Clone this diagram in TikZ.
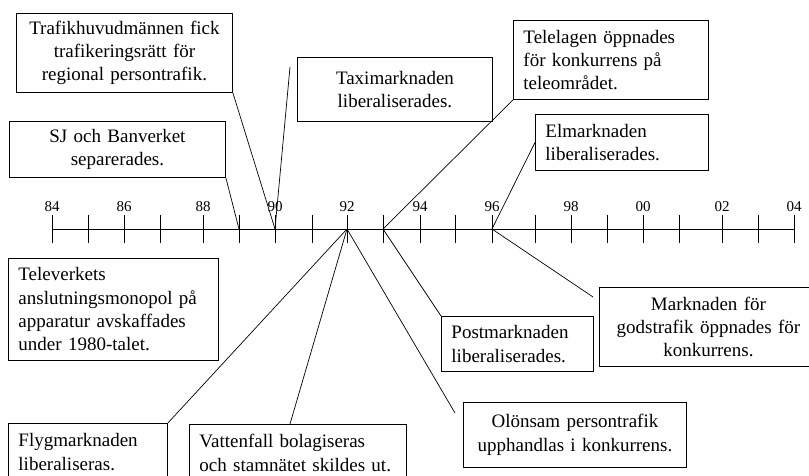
\documentclass[tikz,border=0pt]{standalone}
\usepackage{fontspec}
\setmainfont{Liberation Serif}
\begin{document}
\begin{tikzpicture}[x=1pt,y=-1pt,
  box/.style={draw, line width=0.9pt, inner xsep=10pt, inner ysep=0pt, anchor=north west, font=\fontsize{19}{23.3}\selectfont},
  lbox/.style={box, align=left},
  cbox/.style={box, align=center},
  axisline/.style={line width=0.9pt},
  conn/.style={line width=0.7pt},
  yr/.style={font=\fontsize{15}{17}\selectfont, inner sep=0pt}]
\useasboundingbox (0,0) rectangle (809,475);
\clip (0,0) rectangle (809,475);

% axis
\foreach \n/\x in {84/52,85/88,86/124,87/160,88/203,89/239,90/275,91/312,92/347,93/383,94/420,95/455,96/492,97/535,98/571,99/607,00/643,01/679,02/722,03/758,04/794}{
  \coordinate (t\n) at (\x,229);
  \draw[axisline] (\x,215) -- (\x,243);
}
\foreach \n/\x in {84/52,86/124,88/203,90/275,92/347,94/420,96/492,98/571,00/643,02/722,04/794}{
  \node[yr] (y\n) at (\x,207) {\n};
}
\draw[axisline] (t84) -- (t04);

% boxes
\node[cbox, text width=196pt, minimum height=79pt] (traf) at (16,13) {Trafikhuvudmännen fick\\trafikeringsrätt för\\regional persontrafik.};
\node[cbox, text width=175pt, minimum height=64pt] (taxi) at (297,57) {Taximarknaden\\liberaliserades.};
\node[lbox, text width=175pt, minimum height=79pt] (tele) at (513,20) {Telelagen öppnades\\för konkurrens på\\teleområdet.};
\node[cbox, text width=196pt, minimum height=56pt] (sj) at (9,121) {SJ och Banverket\\separerades.};
\node[lbox, text width=153pt, minimum height=56pt] (el) at (535,114) {Elmarknaden\\liberaliserades.};
\node[lbox, text width=190pt, minimum height=102pt] (telev) at (8,258) {Televerkets\\anslutningsmonopol på\\apparatur avskaffades\\under 1980-talet.};
\node[lbox, text width=132pt, minimum height=55pt] (post) at (441,316) {Postmarknaden\\liberaliserades.};
\node[cbox, text width=198pt, minimum height=79pt] (mark) at (599,287) {Marknaden för\\godstrafik öppnades för\\konkurrens.};
\node[cbox, text width=203pt, minimum height=65pt] (olon) at (463,402) {Olönsam persontrafik\\upphandlas i konkurrens.};
\node[lbox, text width=139pt, minimum height=57pt] (flyg) at (8,423) {Flygmarknaden\\liberaliseras.};
\node[lbox, text width=197pt, minimum height=57pt] (vatt) at (189,424) {Vattenfall bolagiseras\\och stamnätet skildes ut.};

% free connector ends
\coordinate (taxiend) at (290,67);
\coordinate (markend) at (593,297);
\coordinate (vattend) at (290,424);
\coordinate (olonend) at (455,413);

% connectors
\draw[conn] (traf.south east) -- (t90);
\draw[conn] (taxiend) -- (t90);
\draw[conn] (sj.south east) -- (t89);
\draw[conn] (tele.south west) -- (t93);
\draw[conn] (el.west) -- (t96);
\draw[conn] (t96) -- (markend);
\draw[conn] (t93) -- (post.north west);
\draw[conn] (t92) -- (flyg.north east);
\draw[conn] (t92) -- (vattend);
\draw[conn] (t92) -- (olonend);
\end{tikzpicture}
\end{document}
